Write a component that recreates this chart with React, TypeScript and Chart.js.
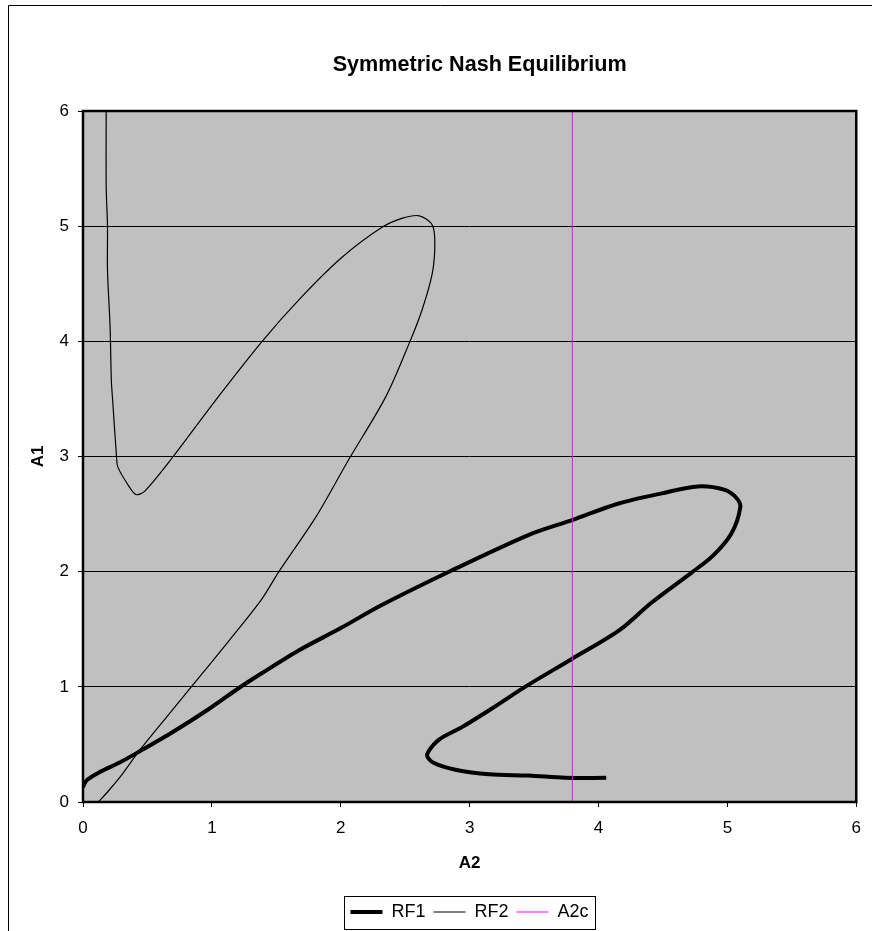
import React, { useEffect, useRef } from "react";
import { Chart, registerables } from "chart.js";

Chart.register(...registerables);

const TITLE = "Symmetric Nash Equilibrium";
const X_TITLE = "A2";
const Y_TITLE = "A1";
const SERIES_NAMES = ["RF1", "RF2", "A2c"];

// RF1 (thick black): x = A2, y = A1
const RF1_A2 = [0, 0.03, 0.13, 0.28, 0.44, 0.7, 0.98, 1.21, 1.39, 1.68, 2.0, 2.3, 2.86, 3.46, 3.8, 4.15, 4.49, 4.77, 4.98, 5.07, 5.1, 5.03, 4.88, 4.72, 4.41, 4.16, 3.79, 3.43, 3.17, 2.94, 2.76, 2.67, 2.72, 2.89, 3.15, 3.46, 3.74, 4.06];
const RF1_A1 = [0.13, 0.19, 0.26, 0.34, 0.44, 0.61, 0.81, 0.99, 1.12, 1.32, 1.51, 1.7, 2.01, 2.32, 2.45, 2.59, 2.68, 2.74, 2.71, 2.64, 2.56, 2.33, 2.13, 1.99, 1.73, 1.49, 1.24, 1.0, 0.81, 0.65, 0.54, 0.41, 0.34, 0.28, 0.24, 0.23, 0.21, 0.21];

// RF2 (thin black)
const RF2_A2 = [0.12, 0.2, 0.29, 0.44, 0.65, 0.84, 1.14, 1.38, 1.52, 1.81, 2.06, 2.35, 2.53, 2.63, 2.71, 2.73, 2.71, 2.61, 2.48, 2.32, 2.01, 1.7, 1.39, 1.03, 0.7, 0.48, 0.41, 0.34, 0.27, 0.26, 0.23, 0.22, 0.21, 0.19, 0.19, 0.18, 0.18];
const RF2_A1 = [0, 0.1, 0.22, 0.45, 0.74, 1.0, 1.41, 1.75, 2.0, 2.48, 2.97, 3.52, 3.98, 4.27, 4.59, 4.85, 5.01, 5.09, 5.07, 4.99, 4.73, 4.39, 4.0, 3.49, 3.0, 2.7, 2.67, 2.77, 2.91, 3.0, 3.49, 3.66, 4.13, 4.62, 5.0, 5.34, 6.0];

// A2c (magenta vertical)
const A2C_A2 = [3.797, 3.797];
const A2C_A1 = [0, 6];

const AXIS_MIN = 0;
const AXIS_MAX = 6;
const TICK_STEP = 1;

const FONT = '"Liberation Sans", Arial, Helvetica, sans-serif';

const toPts = (xs: number[], ys: number[]) => xs.map((x, i) => ({ x, y: ys[i] }));

const decor = {
  id: "decor",
  beforeDraw(chart: any) {
    const { ctx, chartArea } = chart;
    const { left, top, right, bottom } = chartArea;
    ctx.save();
    ctx.fillStyle = "#ffffff";
    ctx.fillRect(0, 0, chart.width, chart.height);
    ctx.strokeStyle = "#000000";
    ctx.lineWidth = 1;
    ctx.beginPath();
    ctx.moveTo(8.5, chart.height);
    ctx.lineTo(8.5, 5.5);
    ctx.lineTo(chart.width, 5.5);
    ctx.stroke();
    ctx.fillStyle = "#c0c0c0";
    ctx.fillRect(left, top, right - left, bottom - top);
    ctx.fillStyle = "#000000";
    ctx.font = `bold 21.6px ${FONT}`;
    ctx.textAlign = "center";
    ctx.textBaseline = "middle";
    ctx.fillText(TITLE, (left + right) / 2 + 10, 65);
    ctx.restore();
  },
  afterDatasetsDraw(chart: any) {
    const { ctx, chartArea } = chart;
    const { left, top, right, bottom } = chartArea;
    ctx.save();
    ctx.strokeStyle = "#000000";
    ctx.lineWidth = 2.5;
    ctx.strokeRect(left, top, right - left, bottom - top);
    ctx.restore();
  },
  afterDraw(chart: any) {
    const lg = chart.legend;
    if (!lg || !lg.legendHitBoxes || !lg.legendHitBoxes.length) return;
    const hb = lg.legendHitBoxes;
    const first = hb[0];
    const last = hb[hb.length - 1];
    const x0 = Math.round(first.left - 6) + 0.5;
    const x1 = Math.round(last.left + last.width + 6) + 0.5;
    const cy = first.top + first.height / 2;
    const y0 = Math.round(cy - 16.5) + 0.5;
    const y1 = Math.round(cy + 16.5) + 0.5;
    const ctx = chart.ctx;
    ctx.save();
    ctx.strokeStyle = "#000000";
    ctx.lineWidth = 1;
    ctx.strokeRect(x0, y0, x1 - x0, y1 - y0);
    ctx.restore();
  },
};

export default function App() {
  const ref = useRef<HTMLCanvasElement | null>(null);

  useEffect(() => {
    if (!ref.current) return;
    const chart = new Chart(ref.current, {
      type: "scatter",
      data: {
        datasets: [
          {
            label: SERIES_NAMES[0],
            data: toPts(RF1_A2, RF1_A1),
            showLine: true,
            borderColor: "#000000",
            backgroundColor: "#000000",
            borderWidth: 4,
            borderJoinStyle: "round",
            pointRadius: 0,
            pointHoverRadius: 0,
            tension: 0.3,
            order: 1,
          },
          {
            label: SERIES_NAMES[1],
            data: toPts(RF2_A2, RF2_A1),
            showLine: true,
            borderColor: "#000000",
            backgroundColor: "#000000",
            borderWidth: 1.2,
            pointRadius: 0,
            pointHoverRadius: 0,
            tension: 0.3,
            order: 2,
          },
          {
            label: SERIES_NAMES[2],
            data: toPts(A2C_A2, A2C_A1),
            showLine: true,
            borderColor: "#ff00ff",
            backgroundColor: "#ff00ff",
            borderWidth: 1,
            pointRadius: 0,
            pointHoverRadius: 0,
            order: 0,
          },
        ],
      },
      options: {
        responsive: false,
        animation: false,
        devicePixelRatio: 1,
        layout: { padding: { top: 111, left: 81, right: 14, bottom: 0 } },
        scales: {
          x: {
            type: "linear",
            min: AXIS_MIN,
            max: AXIS_MAX,
            afterFit: (s: any) => {
              s.height = 93;
            },
            ticks: {
              stepSize: TICK_STEP,
              color: "#000000",
              font: { family: FONT, size: 17 },
              padding: 11,
              maxRotation: 0,
            },
            grid: {
              drawOnChartArea: false,
              drawTicks: true,
              tickLength: 5,
              color: "#000000",
            },
            border: { display: false },
            title: {
              display: true,
              text: X_TITLE,
              color: "#000000",
              font: { family: FONT, size: 17, weight: "bold" },
              padding: { top: 0, bottom: 21 },
            },
          },
          y: {
            type: "linear",
            min: AXIS_MIN,
            max: AXIS_MAX,
            afterFit: (s: any) => {
              s.width = 2;
            },
            ticks: {
              stepSize: TICK_STEP,
              color: "#000000",
              font: { family: FONT, size: 17 },
              mirror: true,
              crossAlign: "far",
              padding: -23.5,
            },
            grid: {
              drawOnChartArea: true,
              drawTicks: true,
              tickLength: 5,
              color: "#000000",
              lineWidth: 1,
            },
            border: { display: false },
            title: {
              display: true,
              text: Y_TITLE,
              color: "#000000",
              font: { family: FONT, size: 17, weight: "bold" },
              padding: { top: -53, bottom: 0 },
            },
          },
        },
        plugins: {
          title: { display: false },
          tooltip: { enabled: false },
          legend: {
            display: true,
            position: "bottom",
            align: "center",
            labels: {
              usePointStyle: true,
              pointStyle: "line",
              pointStyleWidth: 32,
              padding: 8,
              color: "#000000",
              font: { family: FONT, size: 18 },
              sort: (a: any, b: any) => a.datasetIndex - b.datasetIndex,
            },
          },
        },
      },
      plugins: [decor],
    } as any);
    return () => chart.destroy();
  }, []);

  return (
    <div style={{ position: "fixed", left: 0, top: 0, width: 872, height: 931 }}>
      <canvas ref={ref} width={872} height={931} style={{ display: "block", width: 872, height: 931 }} />
    </div>
  );
}
